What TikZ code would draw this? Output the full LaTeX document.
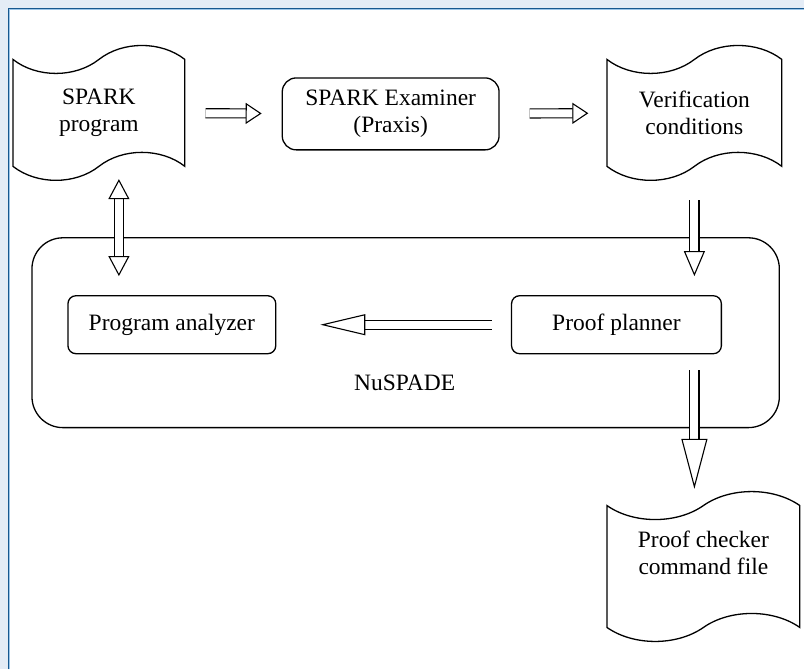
\documentclass[tikz,border=0pt]{standalone}
\usepackage{fontspec}
\setmainfont{Liberation Serif}
\usepackage{tikz}
\usetikzlibrary{shapes.symbols,arrows.meta,positioning,calc}

\definecolor{framebg}{HTML}{E4ECF6}
\definecolor{framedark}{HTML}{17588F}
\definecolor{framelight}{HTML}{9CC5E8}

\tikzset{
  txt/.style={font=\fontsize{23.5}{27}\selectfont, align=center},
  doc/.style={txt, draw, tape, line width=1.3pt, tape bend top=in and out, tape bend bottom=in and out, tape bend height=28pt, minimum width=172pt, minimum height=135pt},
  box/.style={txt, draw, rectangle, rounded corners=8pt, line width=1.3pt},
  hollow/.style={double, double distance=8pt, line width=1.1pt},
}

\begin{document}
\begin{tikzpicture}[x=1pt,y=-1pt]
\fill[framebg] (0,0) rectangle (805,670);
\fill[white] (8,8) rectangle (805,670);
\draw[framedark, line width=1.4pt] (8.3,670) -- (8.3,8.3) -- (805,8.3);
\draw[framelight, line width=1pt] (9.8,670) -- (9.8,9.8) -- (805,9.8);

\node[doc] (spark) at (99,113) {SPARK\\program};
\node[box, rounded corners=14pt, minimum width=217pt, minimum height=72pt] (examiner) at (391,114) {SPARK Examiner\\(Praxis)};
\node[doc, minimum width=175pt] (vc) at (695,113) {Verification\\conditions};
\node[draw, line width=1.3pt, rounded corners=31pt, minimum width=748pt, minimum height=190pt] (nuspade) at (406,333) {};
\node[box, minimum width=208pt, minimum height=58pt] (analyzer) at (172,325) {Program analyzer};
\node[box, minimum width=210pt, minimum height=58pt] (planner) at (617,325) {Proof planner};
\node[txt] (nuslabel) at (405,383) {NuSPADE};
\node[doc, minimum width=193pt, minimum height=150pt, text depth=27pt] (checker) at (704,567) {Proof checker\\command file};

\draw[hollow, -{Triangle[open, length=16pt, width=21pt]}, shorten <=20pt, shorten >=20pt] (spark) -- (examiner);
\draw[hollow, -{Triangle[open, length=16pt, width=21pt]}, shorten <=30pt, shorten >=18pt] (examiner) -- (vc);
\draw[hollow, -{Triangle[open, length=25pt, width=21pt]}, shorten <=33pt, shorten >=19pt] (vc.south) -- (vc.south |- planner.north);
\draw[hollow, -{Triangle[open, length=45pt, width=21pt]}, shorten <=19pt, shorten >=44pt] (planner) -- (analyzer);
\draw[hollow, -{Triangle[open, length=50pt, width=26pt]}, shorten <=16pt, shorten >=16pt] (vc.south |- planner.south) -- (vc.south |- checker.north);
\draw[hollow, {Triangle[open, length=20pt, width=21pt]}-{Triangle[open, length=20pt, width=21pt]}, shorten <=12pt, shorten >=19pt] ([xshift=20pt]spark.south) -- ([xshift=20pt]spark.south |- analyzer.north);
\end{tikzpicture}
\end{document}
